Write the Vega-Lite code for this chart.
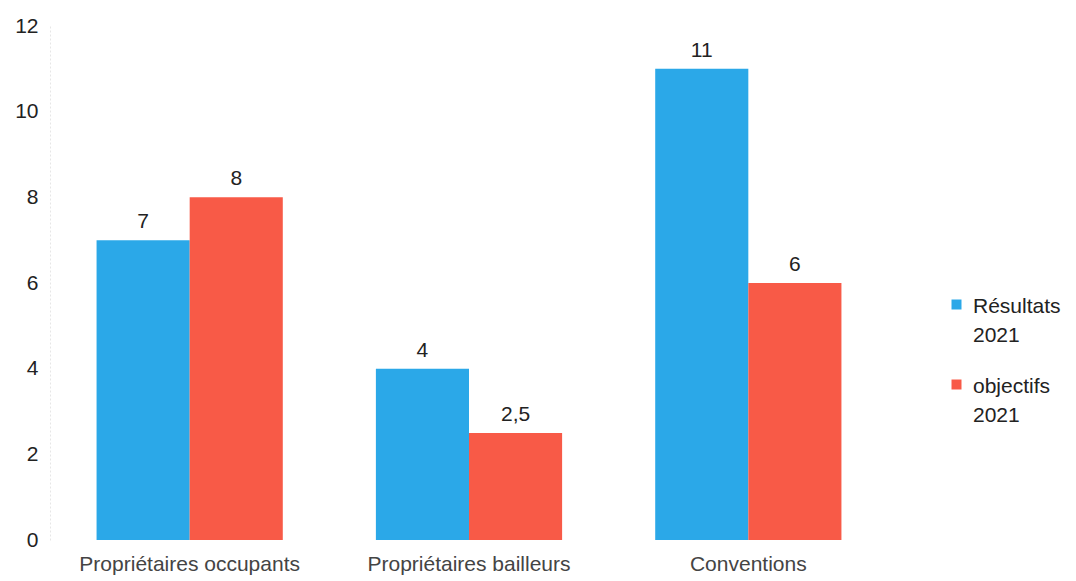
{
  "$schema": "https://vega.github.io/schema/vega-lite/v6.json",
  "width": 838,
  "height": 514,
  "autosize": {"type": "none"},
  "padding": {"left": 50, "top": 26, "right": 188, "bottom": 41},
  "background": "white",
  "config": {
    "view": {"stroke": null},
    "font": "Liberation Sans",
    "locale": {
      "number": {"decimal": ",", "thousands": " ", "grouping": [3], "currency": ["", " €"]}
    }
  },
  "data": {
    "values": [
      {"categorie": "Propriétaires occupants", "serie": "Résultats 2021", "valeur": 7},
      {"categorie": "Propriétaires occupants", "serie": "objectifs 2021", "valeur": 8},
      {"categorie": "Propriétaires bailleurs", "serie": "Résultats 2021", "valeur": 4},
      {"categorie": "Propriétaires bailleurs", "serie": "objectifs 2021", "valeur": 2.5},
      {"categorie": "Conventions", "serie": "Résultats 2021", "valeur": 11},
      {"categorie": "Conventions", "serie": "objectifs 2021", "valeur": 6}
    ]
  },
  "encoding": {
    "x": {
      "field": "categorie",
      "type": "nominal",
      "sort": ["Propriétaires occupants", "Propriétaires bailleurs", "Conventions"],
      "scale": {"paddingInner": 0.3333, "paddingOuter": 0.1667},
      "axis": {
        "title": null,
        "labelAngle": 0,
        "domain": false,
        "ticks": false,
        "labelFontSize": 21,
        "labelLimit": 0,
        "labelColor": "#444444",
        "labelPadding": 13
      }
    },
    "xOffset": {
      "field": "serie",
      "type": "nominal",
      "sort": ["Résultats 2021", "objectifs 2021"],
      "scale": {"paddingInner": 0, "paddingOuter": 0}
    },
    "y": {
      "field": "valeur",
      "type": "quantitative",
      "scale": {"domain": [0, 12]},
      "axis": {
        "title": null,
        "values": [0, 2, 4, 6, 8, 10, 12],
        "grid": false,
        "ticks": false,
        "domainColor": "#e6e6e6",
        "domainDash": [2, 2],
        "labelFontSize": 21,
        "labelColor": "#222222",
        "labelPadding": 12
      }
    },
    "color": {
      "field": "serie",
      "type": "nominal",
      "sort": ["Résultats 2021", "objectifs 2021"],
      "scale": {"domain": ["Résultats 2021", "objectifs 2021"], "range": ["#2ba8e8", "#f85a47"]},
      "legend": {
        "title": null,
        "orient": "none",
        "legendX": 896,
        "legendY": 268,
        "symbolType": "square",
        "symbolSize": 100,
        "symbolStrokeWidth": 0,
        "symbolOpacity": 1,
        "labelFontSize": 21,
        "labelLimit": 0,
        "labelColor": "#222222",
        "labelOffset": 6,
        "labelBaseline": "top",
        "rowPadding": 28,
        "labelExpr": "split(datum.label, ' ')",
        "encode": {
          "labels": {"update": {"lineHeight": {"value": 29}, "dy": {"value": -9}}}
        }
      }
    }
  },
  "layer": [
    {"mark": {"type": "bar"}},
    {
      "mark": {"type": "text", "baseline": "bottom", "dy": -8, "fontSize": 21, "color": "#222222"},
      "encoding": {
        "text": {"field": "valeur", "type": "quantitative", "format": "~g"},
        "color": {"value": "#222222"}
      }
    }
  ]
}
